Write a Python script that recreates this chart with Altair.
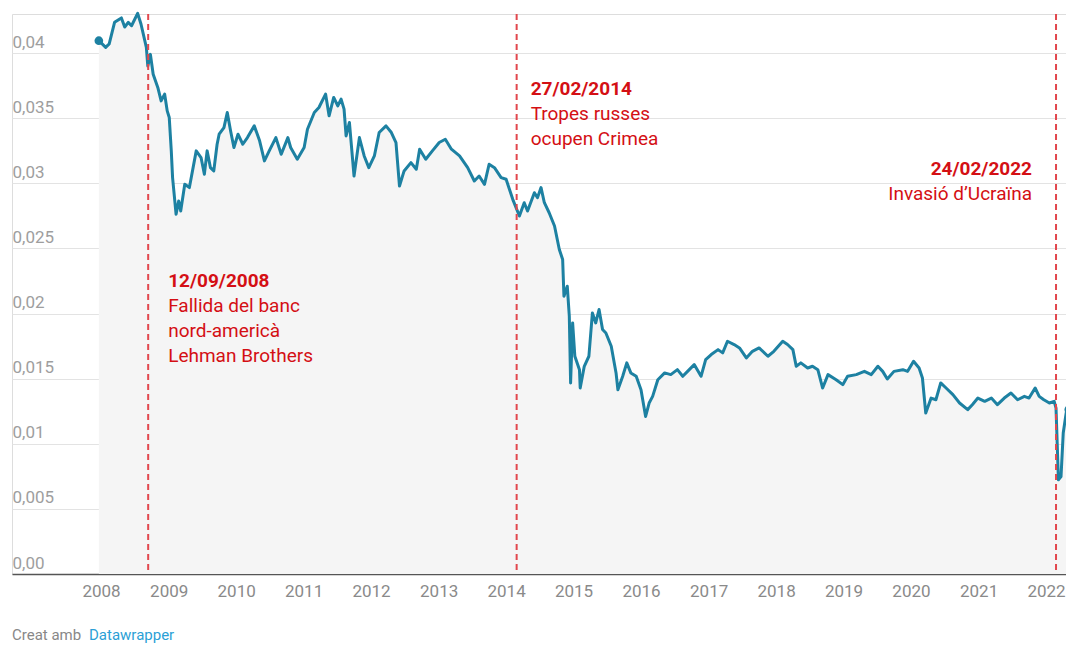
import altair as alt
import pandas as pd

# ---- data ----
dates = [
    "2007-12-20", "2008-01-26", "2008-02-14", "2008-03-14", "2008-04-20", "2008-05-08",
    "2008-05-27", "2008-06-14", "2008-07-17", "2008-08-04", "2008-09-02", "2008-09-10",
    "2008-09-24", "2008-10-09", "2008-11-03", "2008-11-21", "2008-12-10", "2008-12-24",
    "2009-01-04", "2009-01-15", "2009-01-22", "2009-02-10", "2009-02-24", "2009-03-07",
    "2009-03-29", "2009-04-23", "2009-05-30", "2009-06-25", "2009-07-13", "2009-07-28",
    "2009-08-15", "2009-09-02", "2009-09-20", "2009-10-01", "2009-10-27", "2009-11-14",
    "2009-12-02", "2009-12-20", "2010-01-11", "2010-02-06", "2010-03-03", "2010-04-09",
    "2010-05-08", "2010-06-03", "2010-06-29", "2010-08-04", "2010-09-02", "2010-10-08",
    "2010-10-23", "2010-11-28", "2011-01-04", "2011-01-22", "2011-02-28", "2011-03-25",
    "2011-04-30", "2011-05-19", "2011-06-13", "2011-07-05", "2011-07-23", "2011-08-08",
    "2011-08-19", "2011-09-06", "2011-10-01", "2011-10-30", "2011-11-25", "2011-12-20",
    "2012-01-19", "2012-02-14", "2012-03-22", "2012-04-20", "2012-05-15", "2012-06-03",
    "2012-06-28", "2012-08-04", "2012-09-02", "2012-09-20", "2012-10-23", "2012-11-28",
    "2013-01-04", "2013-02-06", "2013-03-11", "2013-04-24", "2013-06-07", "2013-07-13",
    "2013-08-08", "2013-09-06", "2013-10-01", "2013-10-30", "2013-12-05", "2014-01-01",
    "2014-02-06", "2014-03-14", "2014-04-09", "2014-04-27", "2014-06-03", "2014-06-20",
    "2014-07-09", "2014-07-27", "2014-08-22", "2014-09-20", "2014-10-16", "2014-11-03",
    "2014-11-10", "2014-11-28", "2014-12-09", "2014-12-16", "2014-12-27", "2015-01-08",
    "2015-02-02", "2015-02-06", "2015-02-28", "2015-03-25", "2015-04-13", "2015-05-01",
    "2015-05-19", "2015-06-07", "2015-06-25", "2015-07-24", "2015-08-19", "2015-08-29",
    "2015-09-24", "2015-10-16", "2015-11-07", "2015-12-06", "2016-01-01", "2016-01-26",
    "2016-02-14", "2016-03-04", "2016-04-01", "2016-05-08", "2016-06-10", "2016-07-16",
    "2016-08-14", "2016-09-09", "2016-10-15", "2016-11-21", "2016-12-16", "2017-01-15",
    "2017-02-21", "2017-03-18", "2017-04-13", "2017-05-19", "2017-06-17", "2017-07-24",
    "2017-08-26", "2017-10-01", "2017-11-18", "2017-12-20", "2018-02-06", "2018-03-04",
    "2018-04-02", "2018-04-20", "2018-05-15", "2018-06-21", "2018-07-17", "2018-08-15",
    "2018-09-10", "2018-10-09", "2018-11-22", "2018-12-28", "2019-01-23", "2019-03-11",
    "2019-04-24", "2019-05-31", "2019-07-06", "2019-08-01", "2019-08-26", "2019-10-01",
    "2019-11-18", "2019-12-14", "2020-01-15", "2020-02-14", "2020-03-03", "2020-03-21",
    "2020-04-19", "2020-05-15", "2020-06-10", "2020-07-09", "2020-08-15", "2020-09-20",
    "2020-11-03", "2020-11-28", "2020-12-28", "2021-02-03", "2021-03-11", "2021-04-13",
    "2021-05-20", "2021-06-25", "2021-07-31", "2021-09-06", "2021-10-01", "2021-11-03",
    "2021-11-25", "2021-12-20", "2022-01-19", "2022-02-14", "2022-02-24", "2022-03-09",
    "2022-03-23", "2022-04-04", "2022-04-20", "2022-05-04",
]
values = [
    0.04095, 0.04044, 0.0407, 0.04236, 0.0427, 0.0420,
    0.04236, 0.0421, 0.04305, 0.04223, 0.04044, 0.0390,
    0.0399, 0.03838, 0.03736, 0.03633, 0.03685, 0.03556,
    0.03505, 0.03249, 0.03044, 0.02762, 0.02864, 0.02787,
    0.02992, 0.02967, 0.03249, 0.03198, 0.03069, 0.03249,
    0.0312, 0.03095, 0.033, 0.03377, 0.03428, 0.03544,
    0.03402, 0.03275, 0.03377, 0.033, 0.03351, 0.03441,
    0.03326, 0.03172, 0.03249, 0.03351, 0.03223, 0.03351,
    0.03275, 0.03185, 0.03275, 0.03415, 0.03544, 0.03582,
    0.03685, 0.03518, 0.03659, 0.03595, 0.03646, 0.03569,
    0.03364, 0.03467, 0.03056, 0.03351, 0.0321, 0.0312,
    0.0321, 0.0339, 0.03441, 0.0339, 0.03313, 0.02979,
    0.03095, 0.03159, 0.03108, 0.03262, 0.03185, 0.03249,
    0.03313, 0.03338, 0.03262, 0.0321, 0.0312, 0.03018,
    0.03056, 0.02992, 0.03146, 0.0312, 0.03044, 0.03031,
    0.02877, 0.02749, 0.02851, 0.02787, 0.02928, 0.0289,
    0.02967, 0.02851, 0.02774, 0.02672, 0.02492, 0.02415,
    0.02133, 0.0221, 0.01979, 0.01467, 0.01928, 0.01672,
    0.01569, 0.01428, 0.01595, 0.01672, 0.02005, 0.01928,
    0.02031, 0.01877, 0.01851, 0.01749, 0.01544, 0.01415,
    0.01518, 0.01621, 0.01544, 0.01518, 0.01415, 0.0121,
    0.01313, 0.01364, 0.01492, 0.01544, 0.01531, 0.01569,
    0.01518, 0.01556, 0.01608, 0.01518, 0.01646, 0.01685,
    0.01723, 0.01698, 0.01787, 0.01762, 0.01736, 0.01659,
    0.0171, 0.01736, 0.01672, 0.0171, 0.01787, 0.01762,
    0.01723, 0.01595, 0.01621, 0.01582, 0.01595, 0.01569,
    0.01428, 0.01531, 0.01492, 0.01454, 0.01518, 0.01531,
    0.01556, 0.01531, 0.01595, 0.01556, 0.01497, 0.01556,
    0.01569, 0.01556, 0.01633, 0.01582, 0.01505, 0.01236,
    0.01351, 0.01338, 0.01467, 0.01428, 0.01377, 0.01313,
    0.01262, 0.013, 0.01351, 0.01326, 0.01351, 0.013,
    0.01351, 0.0139, 0.01338, 0.01364, 0.01351, 0.01428,
    0.01364, 0.01338, 0.01313, 0.01326, 0.01274, 0.00723,
    0.00748, 0.01082, 0.01236, 0.01262,
]

event_dates = ["2008-09-12", "2014-02-27", "2022-02-24"]
event_titles = ["12/09/2008", "27/02/2014", "24/02/2022"]
event_texts = [
    "Fallida del banc\nnord-americà\nLehman Brothers",
    "Tropes russes\nocupen Crimea",
    "Invasió d’Ucraïna",
]
event_label_values = [0.022, 0.0368, 0.0306]

y_ticks = [0, 0.005, 0.01, 0.015, 0.02, 0.025, 0.03, 0.035, 0.04]
years = list(range(2008, 2023))

footer_texts = ["Creat amb", "Datawrapper"]

# ---- styling ----
W, H = 1054, 560
PAD = {"left": 4, "top": 6, "right": 0, "bottom": 69}
LINE_COLOR = "#1d81a2"
RED_TEXT = "#d40f14"
RED_RULE = "#e2474d"
FONT = "Roboto"

df = pd.DataFrame({"date": dates, "value": values})
ends = df.iloc[[0, len(df) - 1]]
events = pd.DataFrame({
    "date": event_dates,
    "title": event_titles,
    "text": event_texts,
    "lv": event_label_values,
})

x_scale = alt.Scale(domain=[alt.DateTime(year=2006, month=9, date=6, utc=True),
                            alt.DateTime(year=2022, month=4, date=19, utc=True)])
y_scale = alt.Scale(domain=[0, 0.043], nice=False)

x_axis = alt.Axis(
    values=[alt.DateTime(year=y, month=1, date=1, utc=True) for y in years],
    labelExpr="utcFormat(datum.value, '%Y')",
    grid=False, ticks=False, labelFlush=False,
    domainColor="#555555", domainWidth=1.6,
    labelColor="#8a8a8a", labelFont=FONT, labelFontSize=17, labelPadding=9,
    title=None,
)
y_axis = alt.Axis(
    values=y_ticks,
    labelExpr="datum.value == 0 ? '0,00' : replace(toString(round(datum.value*1000)/1000), '.', ',')",
    labelAlign="left", labelBaseline="alphabetic", labelOffset=-6, labelPadding=0,
    ticks=False, domain=False, grid=True, gridColor="#e3e3e3", gridWidth=1,
    labelColor="#9e9e9e", labelFont=FONT, labelFontSize=17, title=None,
)

base = alt.Chart(df)
XS = alt.X("date:T", scale=x_scale)
YS = alt.Y("value:Q", scale=y_scale)

area = base.mark_area(color="#f5f5f5").encode(
    x=alt.X("date:T", scale=x_scale, axis=x_axis),
    y=alt.Y("value:Q", scale=y_scale, axis=y_axis),
)
line = base.mark_line(color=LINE_COLOR, strokeWidth=3, strokeJoin="round").encode(x=XS, y=YS)
dots = alt.Chart(ends).mark_circle(color=LINE_COLOR, size=75, opacity=1).encode(x=XS, y=YS)
rules = alt.Chart(events).mark_rule(color=RED_RULE, strokeWidth=2, strokeDash=[6, 4]).encode(x=XS)

ann_style = [
    {"dx": 20, "align": "left"},
    {"dx": 14, "align": "left"},
    {"dx": -24, "align": "right"},
]
ann_layers = []
for i, st in enumerate(ann_style):
    sub = alt.Chart(events.iloc[[i]])
    enc = dict(x=XS, y=alt.Y("lv:Q", scale=y_scale))
    ann_layers.append(
        sub.mark_text(align=st["align"], baseline="alphabetic", dx=st["dx"], font=FONT,
                      fontSize=19, fontWeight="bold", color=RED_TEXT).encode(text="title:N", **enc)
    )
    ann_layers.append(
        sub.mark_text(align=st["align"], baseline="alphabetic", dx=st["dx"], dy=25, font=FONT,
                      fontSize=19, lineHeight=25, lineBreak="\n", color=RED_TEXT).encode(text="text:N", **enc)
    )

footer1 = alt.Chart(pd.DataFrame({"t": [footer_texts[0]]})).mark_text(
    align="left", baseline="alphabetic", font=FONT, fontSize=15, color="#888888"
).encode(x=alt.value(0), y=alt.value(H + 66), text="t:N")
footer2 = alt.Chart(pd.DataFrame({"t": [footer_texts[1]]})).mark_text(
    align="left", baseline="alphabetic", font=FONT, fontSize=15, color="#2b9fd6"
).encode(x=alt.value(77), y=alt.value(H + 66), text="t:N")

chart = alt.layer(area, line, rules, dots, *ann_layers, footer1, footer2).properties(
    width=W, height=H,
    padding=PAD,
    autosize=alt.AutoSizeParams(type="none"),
).configure_view(stroke=None).configure(background="white")

chart.save("out.html", embed_options={"renderer": "svg", "actions": False})
